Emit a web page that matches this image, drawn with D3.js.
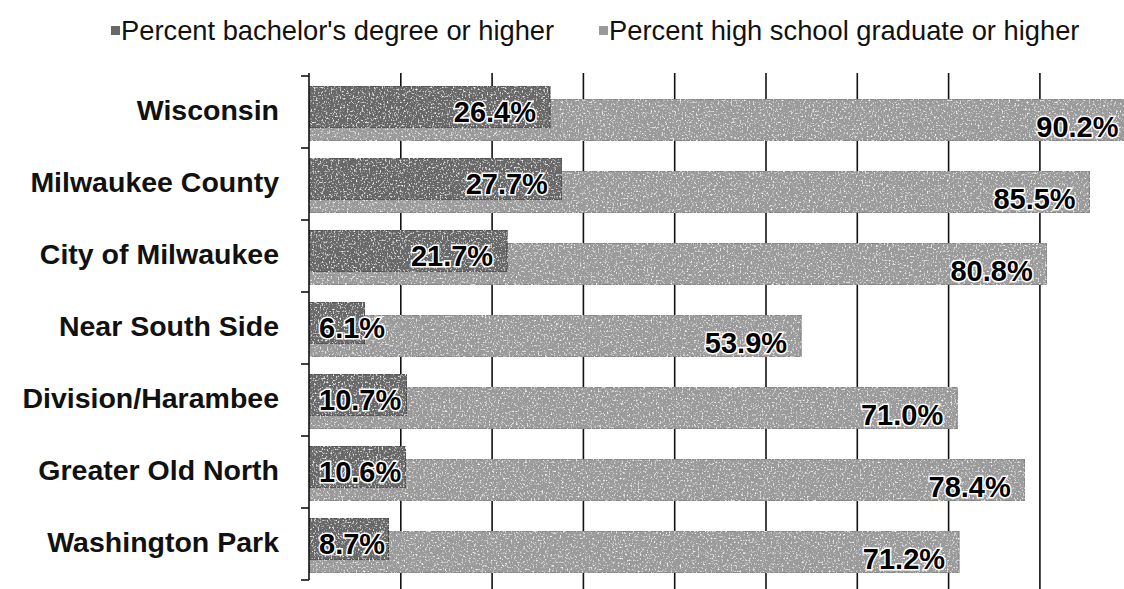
<!DOCTYPE html>
<html>
<head>
<meta charset="utf-8">
<script src="https://cdn.jsdelivr.net/npm/d3@7"></script>
<style>
  body { margin: 0; background: #fff; }
  svg { display: block; font-family: "Liberation Sans", Arial, sans-serif; }
</style>
</head>
<body>
<div id="chart"></div>
<script>
const categories = ["Wisconsin", "Milwaukee County", "City of Milwaukee", "Near South Side",
                    "Division/Harambee", "Greater Old North", "Washington Park"];
const bachelor = [26.4, 27.7, 21.7, 6.1, 10.7, 10.6, 8.7];
const highSchool = [90.2, 85.5, 80.8, 53.9, 71.0, 78.4, 71.2];
const seriesNames = ["Percent bachelor's degree or higher", "Percent high school graduate or higher"];
const gridTicks = [10, 20, 30, 40, 50, 60, 70, 80, 90];

const width = 1124, height = 589;
const plot = {left: 309, top: 76, bottom: 580};
const colors = ["#686868", "#9a9a9a"];

const svg = d3.select("#chart").append("svg")
    .attr("width", width)
    .attr("height", height);

// scanned look: light speckles on the bars
const filter = svg.append("defs").append("filter")
    .attr("id", "speckle")
    .attr("x", 0).attr("y", 0).attr("width", 1).attr("height", 1);
filter.append("feTurbulence")
    .attr("type", "fractalNoise")
    .attr("baseFrequency", 0.55)
    .attr("numOctaves", 2)
    .attr("seed", 3)
    .attr("result", "noise");
filter.append("feColorMatrix")
    .attr("in", "noise")
    .attr("type", "matrix")
    .attr("values", "0 0 0 0 1  0 0 0 0 1  0 0 0 0 1  3.2 0 0 0 -1.75")
    .attr("result", "specks");
filter.append("feComposite")
    .attr("in", "specks").attr("in2", "SourceGraphic")
    .attr("operator", "in")
    .attr("result", "clipped");
const merge = filter.append("feMerge");
merge.append("feMergeNode").attr("in", "SourceGraphic");
merge.append("feMergeNode").attr("in", "clipped");

const x = d3.scaleLinear().domain([0, 100]).range([plot.left, plot.left + 913]);
const y = d3.scaleBand().domain(categories).range([plot.top, plot.bottom]);

// gridlines, running a little past the plot at top and bottom
svg.append("g")
    .attr("transform", `translate(0,${height})`)
    .call(d3.axisBottom(x).tickValues(gridTicks).tickSize(-(height - plot.top + 3)).tickFormat(""))
    .call(g => g.select(".domain").remove())
    .call(g => g.selectAll(".tick line").attr("stroke", "#111").attr("stroke-width", 1.6));

const rows = categories.map((c, i) => ({cat: c, b: bachelor[i], h: highSchool[i]}));

// high school bars sit lower and behind
svg.append("g").selectAll("rect")
    .data(rows)
    .join("rect")
    .attr("x", x(0))
    .attr("y", d => y(d.cat) + 23)
    .attr("width", d => x(d.h) - x(0))
    .attr("height", 42)
    .attr("fill", colors[1])
    .attr("stroke", "#7a7a7a")
    .attr("stroke-width", 1)
    .attr("filter", "url(#speckle)");

svg.append("g").selectAll("rect")
    .data(rows)
    .join("rect")
    .attr("x", x(0))
    .attr("y", d => y(d.cat) + 10)
    .attr("width", d => x(d.b) - x(0))
    .attr("height", 42)
    .attr("fill", colors[0])
    .attr("stroke", "#444")
    .attr("stroke-width", 1)
    .attr("filter", "url(#speckle)");

// left axis with ticks at the band edges
const edges = categories.map(c => y(c)).concat([plot.bottom]);
const yAxis = svg.append("g").attr("stroke", "#111").attr("stroke-width", 1.6);
yAxis.append("line")
    .attr("x1", x(0)).attr("x2", x(0))
    .attr("y1", plot.top - 3).attr("y2", plot.bottom);
yAxis.selectAll(".edge")
    .data(edges)
    .join("line")
    .attr("class", "edge")
    .attr("x1", x(0) - 8).attr("x2", x(0))
    .attr("y1", d => d).attr("y2", d => d);

// category labels
svg.append("g").selectAll("text")
    .data(categories)
    .join("text")
    .attr("x", 279)
    .attr("y", d => y(d) + 34)
    .attr("dy", "0.35em")
    .attr("text-anchor", "end")
    .attr("font-size", 28.5)
    .attr("font-weight", "bold")
    .attr("fill", "#111")
    .text(d => d);

// value labels
const fmt = v => v.toFixed(1) + "%";
const addLabels = (key, off) => {
    svg.append("g").selectAll("text")
        .data(rows)
        .join("text")
        .attr("y", d => y(d.cat) + off)
        .attr("dy", "0.35em")
        .attr("text-anchor", "end")
        .attr("font-size", 29)
        .attr("font-weight", "bold")
        .attr("fill", "#000")
        .attr("stroke", "#fff")
        .attr("stroke-width", 3)
        .attr("paint-order", "stroke")
        .text(d => fmt(d[key]))
        .attr("x", function(d) {
            const w = this.getComputedTextLength();
            return Math.max(x(d[key]) - 14, x(0) + 10 + w);
        });
};
addLabels("h", 51);
addLabels("b", 36);

// legend
const legendX = [111, 599];
const legend = svg.append("g").selectAll("g")
    .data(seriesNames)
    .join("g")
    .attr("transform", (d, i) => `translate(${legendX[i]},0)`);
legend.append("rect")
    .attr("x", 0).attr("y", 26)
    .attr("width", 9).attr("height", 9)
    .attr("fill", (d, i) => colors[i]);
legend.append("text")
    .attr("x", 10)
    .attr("y", 40)
    .attr("font-size", 27.3)
    .attr("fill", "#111")
    .text(d => d);
</script>
</body>
</html>
